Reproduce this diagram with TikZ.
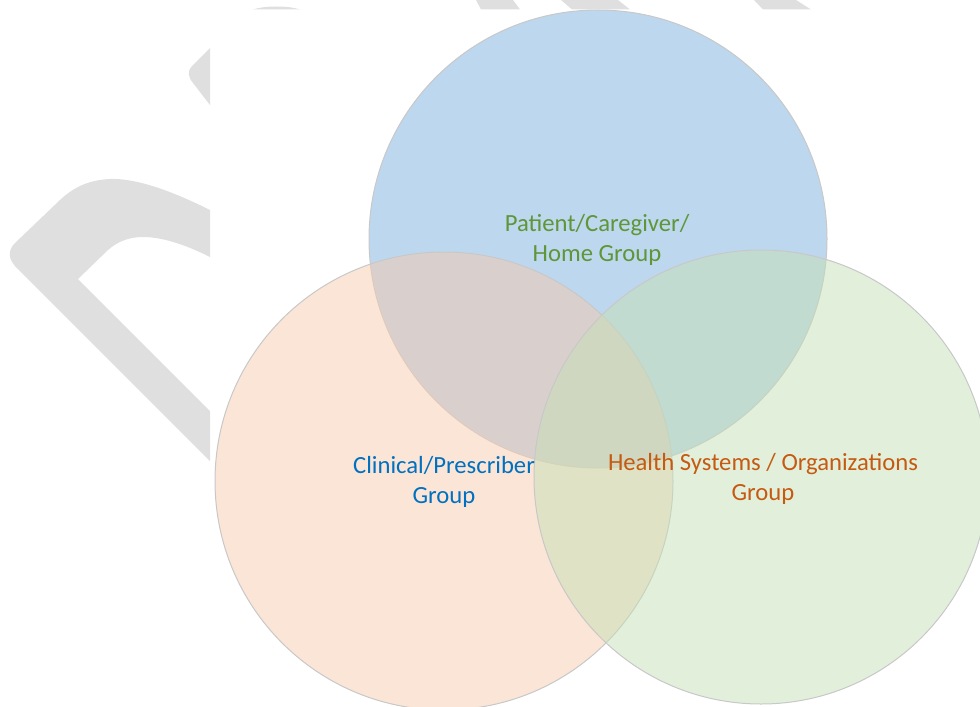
\documentclass[tikz,border=0pt]{standalone}
\usepackage{fontspec}
\setmainfont{Carlito}
\usetikzlibrary{positioning}
\definecolor{patientfill}{RGB}{123,175,221}
\definecolor{clinicalfill}{RGB}{247,203,173}
\definecolor{healthfill}{RGB}{197,223,181}
\definecolor{ringgray}{RGB}{200,200,200}
\definecolor{markgray}{RGB}{223,223,223}
\definecolor{patienttext}{RGB}{94,150,56}
\definecolor{clinicaltext}{RGB}{0,112,192}
\definecolor{healthtext}{RGB}{197,90,17}
\tikzstyle{venn}=[draw=ringgray,line width=0.75pt,fill opacity=0.5]
\tikzstyle{grouptext}=[align=center,inner sep=0pt,font=\fontsize{18.5}{22}\selectfont]
\tikzstyle{watermark}=[fill=markgray,draw=none]

\begin{document}
\begin{tikzpicture}[x=0.75pt,y=-0.75pt]  % one unit = one pixel, y downwards
\useasboundingbox (0,0) rectangle (980,706);

% watermark pieces
\fill[watermark] (210,210) .. controls (170,190) and (135,178) .. (110,179)
      .. controls (90,180) and (75,186) .. (60,200)
      -- (15,243) .. controls (8,250) and (8,258) .. (15,266)
      -- (210,461) -- (210,411) -- (78,279) -- (108,250)
      .. controls (118,241) and (130,237) .. (143,237)
      .. controls (165,237) and (190,247) .. (210,257) -- cycle;
\fill[watermark] (210,48) -- (192,66) .. controls (187,71) and (188,77) .. (193,83)
      -- (210,105) -- cycle;
\fill[watermark] (253,9.5) .. controls (265,5.5) and (288,5.5) .. (300,9.5) -- cycle;
\fill[watermark] (476,0) -- (513,0) -- (520,9.5) -- (481,9.5) -- cycle;
\fill[watermark] (561,0) -- (618,0) -- (630,9.5) -- (572,9.5) -- cycle;
\fill[watermark] (754,0) -- (796,0) -- (811,9.5) -- (763,9.5) -- cycle;

% the three groups
\draw[venn,fill=patientfill] (598,239) circle (229);
\draw[venn,fill=clinicalfill] (444,481) circle (229);
\draw[venn,fill=healthfill] (761,477) circle (227);

\node[grouptext,text=patienttext] (patient) at (597,240) {Patient/Caregiver/\\Home Group};
\node[grouptext,text=clinicaltext] (clinical) at (444,482) {Clinical/Prescriber\\Group};
\node[grouptext,text=healthtext] (health) at (763,479) {Health Systems / Organizations\\Group};
\end{tikzpicture}
\end{document}
